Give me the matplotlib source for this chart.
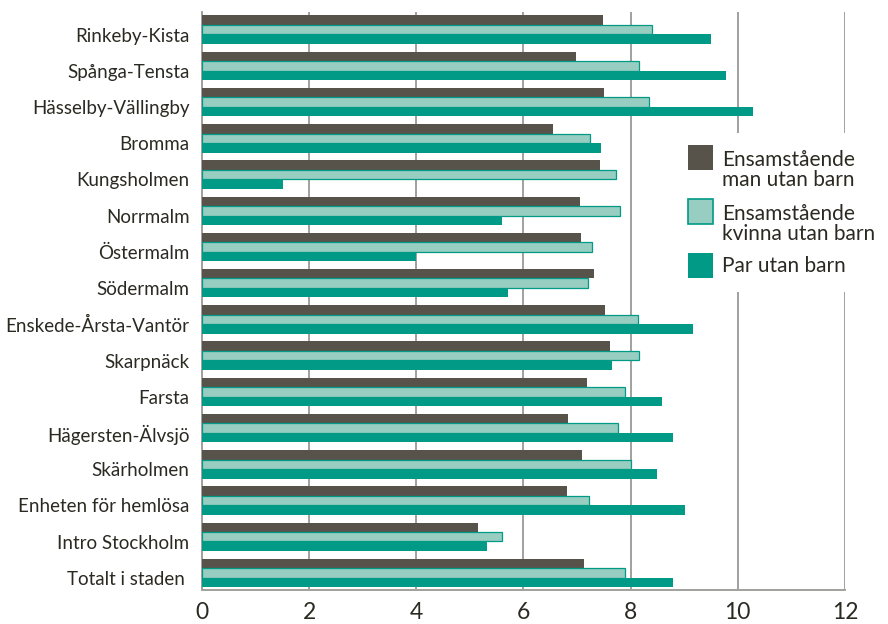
import numpy as np
import matplotlib.pyplot as plt
import matplotlib.transforms as mtransforms
from matplotlib.patches import Rectangle

plt.rcParams['font.family'] = ['Lato', 'DejaVu Sans']

districts = [
    'Rinkeby-Kista', 'Spånga-Tensta', 'Hässelby-Vällingby', 'Bromma',
    'Kungsholmen', 'Norrmalm', 'Östermalm', 'Södermalm',
    'Enskede-Årsta-Vantör', 'Skarpnäck', 'Farsta', 'Hägersten-Älvsjö',
    'Skärholmen', 'Enheten för hemlösa', 'Intro Stockholm', 'Totalt i staden ',
]
man = [7.48, 6.98, 7.50, 6.55, 7.43, 7.05, 7.07, 7.32,
       7.52, 7.61, 7.19, 6.83, 7.09, 6.81, 5.15, 7.13]
kvinna = [8.40, 8.15, 8.34, 7.24, 7.73, 7.80, 7.27, 7.20,
          8.13, 8.16, 7.89, 7.76, 8.00, 7.22, 5.60, 7.89]
par = [9.50, 9.78, 10.28, 7.45, 1.51, 5.60, 4.00, 5.71,
       9.16, 7.65, 8.59, 8.79, 8.49, 9.01, 5.32, 8.79]

series_labels = ['Ensamstående\nman utan barn',
                 'Ensamstående\nkvinna utan barn',
                 'Par utan barn']

dark = '#57524a'
light = '#98cec1'
teal = '#009a86'
text_col = '#2b2a22'
grid_col = '#a0a09c'

W, H = 888, 624
fig = plt.figure(figsize=(W / 100, H / 100), dpi=100)
ax = fig.add_axes([0.2275, 0.0545, 0.724, 0.927])

y = np.arange(len(districts))
h = 0.262
ax.barh(y - h, man, height=h, color=dark, zorder=3)
ax.barh(y, kvinna, height=h, color=light, edgecolor=teal, linewidth=0.9,
        zorder=3)
ax.barh(y + h, par, height=h, color=teal, zorder=3)

ax.set_xlim(0, 12)
ax.set_ylim(len(districts) - 0.53, -0.5)
ax.set_xticks(range(0, 13, 2))
ax.set_yticks(y)
ax.set_yticklabels(districts)
ax.tick_params(axis='y', length=0, pad=9, labelsize=13.5, labelcolor=text_col)
ax.tick_params(axis='x', length=0, pad=9, labelsize=16.5, labelcolor=text_col)
ax.grid(axis='x', color=grid_col, linewidth=1.4, zorder=0)

# district names sit a little below the group centre
shift = mtransforms.ScaledTranslation(0, -3.5 / 72, fig.dpi_scale_trans)
for lab in ax.get_yticklabels():
    lab.set_transform(lab.get_transform() + shift)

for side in ['top', 'right']:
    ax.spines[side].set_visible(False)
for side in ['left', 'bottom']:
    ax.spines[side].set_color(grid_col)
    ax.spines[side].set_linewidth(1.4)


def fx(px):
    return px / W


def fy(py):
    return 1 - py / H


# legend: white panel over the grid, then swatches and labels
fig.add_artist(Rectangle((fx(680), fy(292)), fx(888) - fx(680), fy(133) - fy(292),
                         transform=fig.transFigure, facecolor='white',
                         edgecolor='none', zorder=4))
swatches = [(dark, 'none'), (light, teal), (teal, 'none')]
sw_top = [145, 199, 253]
txt_base = [186, 240, 271.5]   # baseline of the last line of each label
for (fc, ec), top, base, lab in zip(swatches, sw_top, txt_base, series_labels):
    fig.add_artist(Rectangle((fx(688), fy(top + 25)), fx(25), 25 / H,
                             transform=fig.transFigure, facecolor=fc,
                             edgecolor=ec, linewidth=1.2, zorder=5))
    fig.text(fx(722), fy(base), lab, ha='left', va='baseline', fontsize=15,
             color=text_col, linespacing=1.0, zorder=6)

fig.savefig('out.png', dpi=100)
